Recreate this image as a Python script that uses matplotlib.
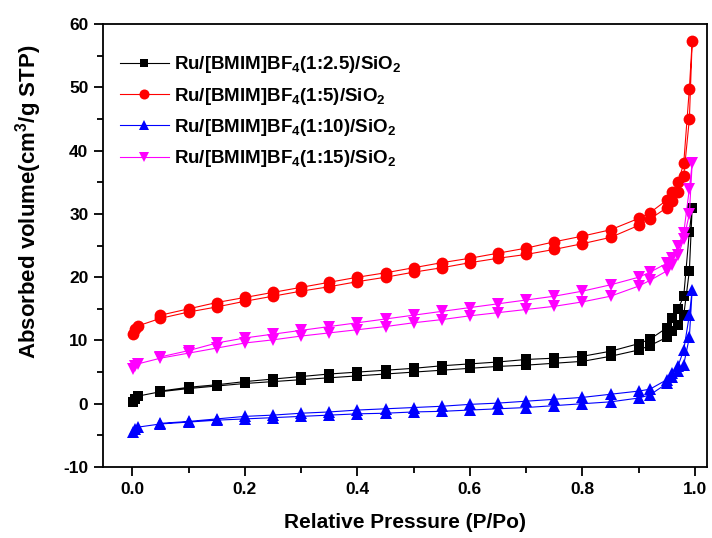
import matplotlib
matplotlib.use("Agg")
import matplotlib.pyplot as plt
from matplotlib.ticker import MultipleLocator

plt.rcParams['font.family'] = ['Liberation Sans', 'DejaVu Sans']
plt.rcParams['font.weight'] = 'bold'
plt.rcParams['mathtext.fontset'] = 'custom'
plt.rcParams['mathtext.rm'] = 'Liberation Sans:bold'
plt.rcParams['mathtext.default'] = 'rm'
plt.rcParams['axes.unicode_minus'] = False

# relative pressure, adsorption branch then desorption branch
x_ads = [0.002, 0.005, 0.01, 0.05, 0.10, 0.15, 0.20, 0.25, 0.30, 0.35, 0.40, 0.45, 0.50, 0.55,
         0.60, 0.65, 0.70, 0.75, 0.80, 0.85, 0.90, 0.92, 0.95, 0.96, 0.97, 0.98, 0.99, 0.995]
x_des = [0.99, 0.98, 0.97, 0.96, 0.95, 0.92, 0.90, 0.85, 0.80, 0.75, 0.70, 0.65, 0.60, 0.55,
         0.50, 0.45, 0.40, 0.35, 0.30, 0.25, 0.20, 0.15, 0.10, 0.05]

black_ads = [0.3, 0.8, 1.2, 1.9, 2.4, 2.8, 3.2, 3.5, 3.8, 4.1, 4.4, 4.7, 5.0, 5.3,
             5.6, 5.9, 6.1, 6.4, 6.7, 7.5, 8.5, 9.2, 10.5, 11.5, 12.5, 14.0, 21.0, 31.0]
black_des = [27.2, 17.0, 15.0, 13.5, 12.0, 10.2, 9.5, 8.3, 7.5, 7.2, 7.0, 6.6, 6.3, 6.0,
             5.6, 5.3, 5.0, 4.7, 4.3, 3.9, 3.5, 3.0, 2.6, 2.0]

red_ads = [11.0, 11.8, 12.3, 13.5, 14.5, 15.3, 16.2, 17.0, 17.8, 18.5, 19.3, 20.0, 20.8, 21.5,
           22.3, 23.0, 23.6, 24.4, 25.3, 26.3, 28.2, 29.2, 31.0, 32.0, 33.5, 36.0, 45.0, 57.3]
red_des = [49.8, 38.0, 35.0, 33.5, 32.2, 30.2, 29.3, 27.5, 26.5, 25.6, 24.6, 23.8, 23.0, 22.3,
           21.5, 20.7, 20.0, 19.2, 18.4, 17.6, 16.8, 16.0, 15.0, 14.0]

blue_ads = [-4.5, -4.0, -3.7, -3.2, -2.9, -2.6, -2.4, -2.2, -2.0, -1.8, -1.6, -1.5, -1.3, -1.2,
            -1.0, -0.8, -0.6, -0.3, 0.0, 0.3, 0.9, 1.4, 3.2, 4.2, 5.2, 6.2, 10.5, 18.0]
blue_des = [14.0, 8.5, 6.0, 4.8, 3.8, 2.3, 2.0, 1.5, 1.0, 0.7, 0.4, 0.1, -0.1, -0.4,
            -0.6, -0.8, -1.0, -1.3, -1.5, -1.8, -2.0, -2.4, -2.8, -3.1]

mag_ads = [5.5, 6.0, 6.3, 7.2, 8.0, 8.8, 9.6, 10.1, 10.7, 11.2, 11.7, 12.2, 12.8, 13.3,
           13.9, 14.4, 14.9, 15.4, 16.1, 17.0, 18.6, 19.5, 21.0, 22.0, 23.5, 26.0, 30.0, 38.0]
mag_des = [34.0, 27.0, 25.0, 23.0, 22.2, 20.8, 20.0, 18.8, 17.8, 17.0, 16.4, 15.8, 15.2, 14.6,
           14.0, 13.4, 12.8, 12.2, 11.6, 11.0, 10.4, 9.6, 8.4, 7.4]

labels = [r'Ru/[BMIM]BF$_4$(1:2.5)/SiO$_2$',
          r'Ru/[BMIM]BF$_4$(1:5)/SiO$_2$',
          r'Ru/[BMIM]BF$_4$(1:10)/SiO$_2$',
          r'Ru/[BMIM]BF$_4$(1:15)/SiO$_2$']

series = [(black_ads, black_des, 'black', 's', 7.5),
          (red_ads, red_des, '#ff0000', 'o', 8.5),
          (blue_ads, blue_des, '#0000ff', '^', 8.5),
          (mag_ads, mag_des, '#ff00ff', 'v', 8.5)]

fig = plt.figure(figsize=(7.12, 5.38), dpi=100)
ax = fig.add_axes([0.1447, 0.132, 0.848, 0.823])

x_all = x_ads + x_des
for (ya, yd, c, m, ms), lab in zip(series, labels):
    ax.plot(x_all, ya + yd, color=c, marker=m, markersize=ms, linewidth=0.8,
            markeredgewidth=0, label=lab)

ax.set_xlim(-0.052, 1.021)
ax.set_ylim(-10, 60)
ax.xaxis.set_major_locator(MultipleLocator(0.2))
ax.xaxis.set_minor_locator(MultipleLocator(0.1))
ax.yaxis.set_major_locator(MultipleLocator(10))
ax.yaxis.set_minor_locator(MultipleLocator(5))
ax.tick_params(which='both', direction='out', width=1.3, labelsize=12.5, pad=4)
ax.tick_params(which='major', length=6.5)
ax.tick_params(which='minor', length=4)
for s in ax.spines.values():
    s.set_linewidth(1.3)

ax.set_xlabel('Relative Pressure (P/Po)', fontsize=15, fontweight='bold', labelpad=12)
ax.set_ylabel(r'Absorbed volume(cm$^3$/g STP)', fontsize=16, fontweight='bold')
ax.yaxis.set_label_coords(-0.097, 0.6)

leg = ax.legend(loc='upper left', bbox_to_anchor=(0.0, 0.97), frameon=False,
                prop={'size': 13.5, 'weight': 'bold'}, handlelength=2.6, labelspacing=0.55,
                handletextpad=0.3, markerscale=0.85)

fig.savefig('out.png', dpi=100)
